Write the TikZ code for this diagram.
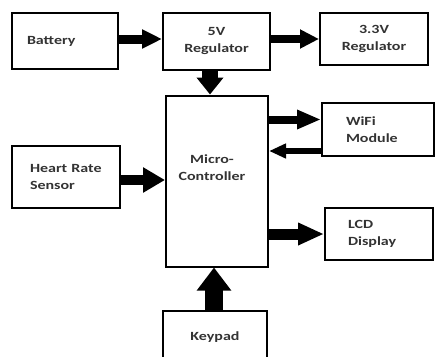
\documentclass[tikz,border=0pt]{standalone}
\usepackage{fontspec}
\setmainfont{Carlito}[FakeStretch=1.28]
\usetikzlibrary{arrows.meta}
\tikzset{
  blk/.style={draw=black, line width=2pt, fill=white, minimum width=#1, font=\bfseries\fontsize{12.5}{17}\selectfont, text=black!80, inner sep=0pt},
  fat/.style n args={3}{line width=#1, -{Triangle[length=#2,width=#3]}, black},
}
\begin{document}
\begin{tikzpicture}[x=1pt,y=-1pt]
\useasboundingbox[fill=white] (0,0) rectangle (435,356);
% boxes
\node[blk=106pt, minimum height=56pt, align=left, text width=76pt] (bat) at (65,41) {Battery};
\node[blk=107pt, minimum height=57pt, align=center] (v5) at (216.5,41.5) {5V\\Regulator};
\node[blk=108pt, minimum height=52pt, align=center] (v33) at (374,39) {3.3V\\Regulator};
\node[blk=102pt, minimum height=171pt] (mc) at (217,181) {};
\node[font=\bfseries\fontsize{12.5}{17}\selectfont, text=black!80, align=center] (mct) at (212,168) {Micro-\\Controller};
\node[blk=112pt, minimum height=53pt, align=left, text width=64pt] (wifi) at (378,129.5) {WiFi\\Module};
\node[blk=108pt, minimum height=52pt, align=left, text width=62pt] (lcd) at (379,234) {LCD\\Display};
\node[blk=108pt, minimum height=62pt, align=left, text width=72pt] (hrs) at (66,177) {Heart Rate\\Sensor};
\node[blk=104pt, minimum height=52pt, align=center] (kp) at (215,337) {Keypad};
% helper coordinates
\coordinate (w1) at ([yshift=10pt]wifi.west);
\coordinate (w2) at ([yshift=-21.5pt]wifi.west);
\coordinate (h1) at ([yshift=-3pt]hrs.east);
\coordinate (d1) at ([xshift=-6.5pt]v5.south);
\coordinate (k1) at ([xshift=-1pt]kp.north);
% arrows
\draw[fat={9pt}{20pt}{18pt}] (bat.east |- v33.west) -- (v5.west |- v33.west);
\draw[fat={8pt}{19pt}{18pt}] (v5.east |- v33.west) -- (v33.west);
\draw[fat={16pt}{17pt}{26pt}] (d1) -- (d1 |- mc.north);
\draw[fat={8pt}{24pt}{18pt}] (mc.east |- w1) -- (w1);
\draw[fat={6pt}{17pt}{14pt}] (w2) -- (mc.east |- w2);
\draw[fat={11pt}{26pt}{21pt}] (mc.east |- lcd.west) -- (lcd.west);
\draw[fat={10pt}{22pt}{24pt}] (h1) -- (mc.west |- h1);
\draw[fat={18pt}{23pt}{33pt}] (k1) -- (k1 |- mc.south);
\end{tikzpicture}
\end{document}
